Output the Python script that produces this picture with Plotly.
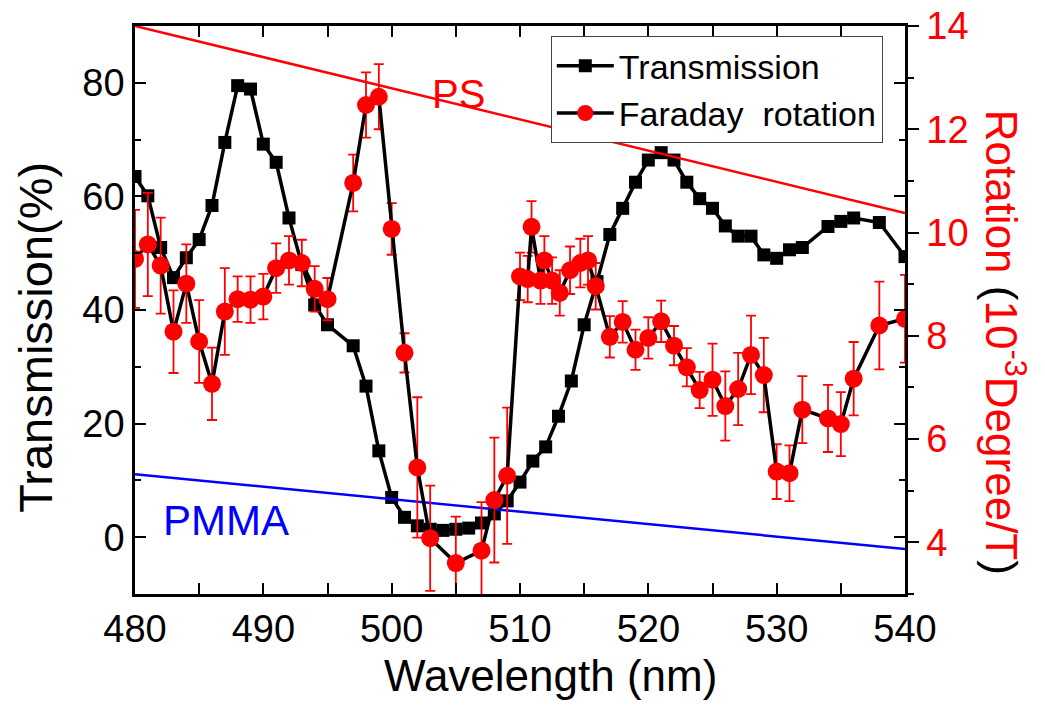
import plotly.graph_objects as go

# ---------------- data ----------------
wl_T = [480, 481, 482, 483, 484, 485, 486, 487, 488, 489, 490, 491, 492, 493, 494, 495,
        497, 498, 499, 500, 501, 502, 503, 504, 505, 506, 507, 508, 509, 510, 511, 512,
        513, 514, 515, 516, 517, 518, 519, 520, 521, 522, 523, 524, 525, 526, 527, 528,
        529, 530, 531, 532, 534, 535, 536, 538, 540]
transmission = [63.5, 60.1, 51.0, 45.7, 49.2, 52.4, 58.4, 69.5, 79.5, 78.9, 69.2, 66.0, 56.2, 48.0, 40.9, 37.4,
                33.7, 26.6, 15.2, 7.0, 3.5, 2.0, 1.4, 1.2, 1.4, 1.6, 2.5, 4.1, 6.4, 9.7, 13.4, 15.9,
                21.3, 27.5, 37.4, 45.0, 53.3, 57.9, 62.5, 66.4, 67.7, 66.4, 62.5, 59.6, 57.9, 54.8, 53.0, 53.0,
                49.7, 49.1, 50.6, 51.0, 54.7, 55.6, 56.2, 55.4, 49.4]

wl_F = [480, 481, 482, 483, 484, 485, 486, 487, 488, 489, 490, 491, 492, 493, 494, 495,
        497, 498, 499, 500, 501, 502, 503, 505, 507, 508, 509,
        510, 510.6, 510.9, 511.6, 511.9, 512.5, 513.1, 513.9, 514.7, 515.3, 515.9,
        517, 518, 519, 520, 521, 522, 523, 524, 525, 526, 527, 528, 529, 530, 531, 532,
        534, 535, 536, 538, 540]
rotation = [9.49, 9.77, 9.36, 8.08, 9.01, 7.89, 7.07, 8.47, 8.71, 8.70, 8.76, 9.31, 9.46, 9.41, 8.91, 8.71,
            10.96, 12.47, 12.63, 10.07, 7.67, 5.45, 4.08, 3.60, 3.84, 4.82, 5.29,
            9.15, 9.10, 10.11, 9.07, 9.46, 9.07, 8.83, 9.27, 9.41, 9.46, 8.96,
            7.98, 8.27, 7.73, 7.96, 8.28, 7.81, 7.39, 6.95, 7.15, 6.64, 6.97, 7.63, 7.24, 5.37, 5.34, 6.57,
            6.40, 6.29, 7.17, 8.20, 8.33]
rotation_err = [0.95, 1.0, 0.93, 0.8, 0.76, 0.8, 0.7, 0.84, 0.44, 0.45, 0.44, 0.48, 0.47, 0.45, 0.44, 0.41,
                0.55, 0.63, 0.63, 0.5, 0.38, 1.36, 1.02, 0.9, 0.94, 1.21, 1.32,
                0.46, 0.45, 0.5, 0.45, 0.47, 0.45, 0.44, 0.46, 0.47, 0.47, 0.45,
                0.4, 0.4, 0.39, 0.4, 0.4, 0.38, 0.37, 0.35, 0.7, 0.67, 0.7, 0.76, 0.72, 0.53, 0.54, 0.65,
                0.65, 0.62, 0.71, 0.85, 0.85]

wl_line = [480, 540]
ps_line = [14.0, 10.38]
pmma_line = [5.32, 3.87]

x_ticks = [480, 490, 500, 510, 520, 530, 540]
left_ticks = [0, 20, 40, 60, 80]
right_ticks = [4, 6, 8, 10, 12, 14]

FONT = "Arial, Liberation Sans, sans-serif"
RED = "#ff0000"

fig = go.Figure()

fig.add_trace(go.Scatter(x=wl_line, y=ps_line, mode="lines", yaxis="y2",
                         line=dict(color=RED, width=2.5), showlegend=False, hoverinfo="skip"))
fig.add_trace(go.Scatter(x=wl_line, y=pmma_line, mode="lines", yaxis="y2",
                         line=dict(color="#0000ff", width=2.5), showlegend=False, hoverinfo="skip"))

fig.add_trace(go.Scatter(x=wl_T, y=transmission, mode="lines+markers", name="Transmission",
                         line=dict(color="black", width=3.5),
                         marker=dict(symbol="square", size=13, color="black")))

fig.add_trace(go.Scatter(x=wl_F, y=rotation, mode="lines+markers", name="Faraday  rotation",
                         yaxis="y2",
                         line=dict(color="black", width=3.5),
                         marker=dict(symbol="circle", size=18, color=RED),
                         error_y=dict(type="data", array=rotation_err, color=RED,
                                      thickness=1.8, width=5)))

axis_common = dict(showline=True, linecolor="black", linewidth=2.5, showgrid=False,
                   zeroline=False, tickcolor="black", tickwidth=2, automargin=False,
                   ticklabeloverflow="allow")

fig.update_layout(
    width=1037, height=699,
    margin=dict(l=127, r=140, t=18, b=113),
    plot_bgcolor="white", paper_bgcolor="white",
    font=dict(family=FONT, size=34, color="black"),
    xaxis=dict(range=[480, 540], tickvals=x_ticks, ticks="inside", ticklen=11,
               mirror="allticks", minor=dict(dtick=5, ticks="inside", ticklen=6,
                                             tickcolor="black", tickwidth=2),
               tickfont=dict(size=38, color="black"), **axis_common),
    yaxis=dict(range=[-10, 90], tickvals=left_ticks, ticks="inside", ticklen=11,
               mirror="allticks", minor=dict(dtick=10, ticks="inside", ticklen=6,
                                             tickcolor="black", tickwidth=2),
               tickfont=dict(size=38, color="black"), **axis_common),
    yaxis2=dict(range=[3, 14], overlaying="y", side="right", tickvals=right_ticks,
                ticks="outside", ticklen=11,
                minor=dict(dtick=1, ticks="outside", ticklen=6, tickcolor="black", tickwidth=2),
                tickfont=dict(size=38, color=RED), **axis_common),
    legend=dict(x=0.54, y=0.982, xanchor="left", yanchor="top",
                bgcolor="white", bordercolor="#444", borderwidth=1,
                font=dict(size=34, color="black"), tracegroupgap=0, itemwidth=57),
    showlegend=True,
)

fig.add_annotation(text="Wavelength (nm)", xref="paper", yref="paper", x=0.54, y=-0.143,
                   xanchor="center", yanchor="middle", showarrow=False,
                   font=dict(size=44, color="black"))
fig.add_annotation(text="Transmission(%)", xref="paper", yref="paper", x=-0.129, y=0.4525,
                   xanchor="center", yanchor="middle", textangle=-90, showarrow=False,
                   font=dict(size=47, color="black"))
fig.add_annotation(text="Rotation <span style='color:black'>(</span>10<sup>-3</sup>Degree/T<span style='color:black'>)</span>",
                   xref="paper", yref="paper", x=1.13, y=0.444,
                   xanchor="center", yanchor="middle", textangle=90, showarrow=False,
                   font=dict(size=44, color=RED))
fig.add_annotation(text="PS", x=505.2, y=12.68, xref="x", yref="y2", showarrow=False,
                   font=dict(size=40, color=RED))
fig.add_annotation(text="PMMA", x=487.1, y=4.43, xref="x", yref="y2", showarrow=False,
                   font=dict(size=42, color="#0000ff"))

fig.write_html("out.html")
